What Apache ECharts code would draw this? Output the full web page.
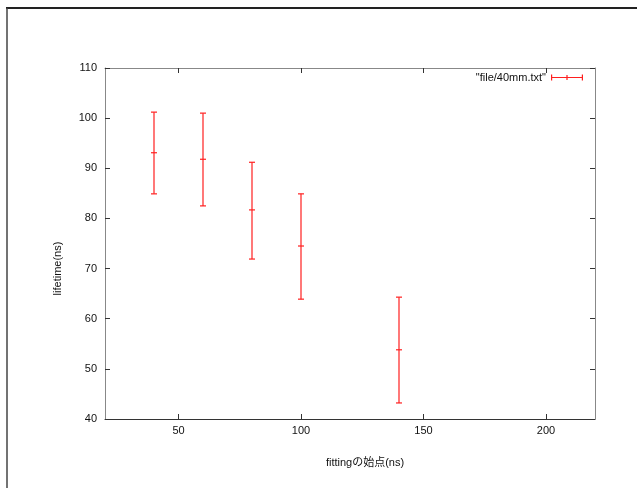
<!DOCTYPE html>
<html>
<head>
<meta charset="utf-8">
<script src="https://cdn.jsdelivr.net/npm/echarts@6/dist/echarts.min.js"></script>
<style>
html,body{margin:0;padding:0;background:#fff;}
#chart{width:637px;height:488px;}
</style>
</head>
<body>
<div id="chart"></div>
<script>
// Data
const seriesName = '"file/40mm.txt"';
const xValues = [40, 60, 80, 100, 140];
const centers = [93.1, 91.8, 81.7, 74.5, 53.8];
const lows    = [84.9, 82.5, 71.9, 63.9, 43.2];
const highs   = [101.2, 101.0, 91.2, 84.9, 64.3];
const xTicks = [50, 100, 150, 200];
const yTicks = [40, 50, 60, 70, 80, 90, 100, 110];
const xLabel = 'fittingの始点(ns)';
const yLabel = 'lifetime(ns)';

const data = xValues.map((x, i) => [x, lows[i], centers[i], highs[i]]);

const RED = '#ff1f1f';
const FONT = '"Liberation Sans", Arial, "Noto Sans CJK JP", sans-serif';

function renderItem(params, api) {
  const x = api.value(0);
  const pLo = api.coord([x, api.value(1)]);
  const pMid = api.coord([x, api.value(2)]);
  const pHi = api.coord([x, api.value(3)]);
  const hw = 3;
  const st = { stroke: RED, lineWidth: 1.2 };
  const seg = (x1, y1, x2, y2) => ({ type: 'line', shape: { x1, y1, x2, y2 }, style: st });
  return {
    type: 'group',
    children: [
      seg(pHi[0], pHi[1], pLo[0], pLo[1]),
      seg(pHi[0] - hw, pHi[1], pHi[0] + hw, pHi[1]),
      seg(pLo[0] - hw, pLo[1], pLo[0] + hw, pLo[1]),
      seg(pMid[0] - hw, pMid[1], pMid[0] + hw, pMid[1])
    ]
  };
}

const axisCommon = {
  type: 'value',
  splitLine: { show: false },
  axisTick: { show: true, inside: true, length: 5, lineStyle: { color: '#333' } },
};

const option = {
  animation: false,
  backgroundColor: '#fff',
  textStyle: { fontFamily: FONT },
  grid: { left: 105, right: 42, top: 68, bottom: 69, containLabel: false },
  legend: {
    right: 49,
    top: 67,
    align: 'right',
    itemWidth: 32,
    itemHeight: 7,
    itemGap: 5,
    textStyle: { fontFamily: FONT, fontSize: 11, color: '#111' },
    data: [{
      name: seriesName,
      icon: 'path://M0,3.4h32v1.2h-32z M0,1h1.2v6h-1.2z M30.8,1h1.2v6h-1.2z M15.4,1.5h1.2v5h-1.2z',
      itemStyle: { color: RED }
    }]
  },
  xAxis: [
    Object.assign({}, axisCommon, {
      position: 'bottom',
      min: 20, max: 220,
      axisLine: { show: true, onZero: false, lineStyle: { color: '#333', width: 1 } },
      axisTick: { show: true, inside: true, length: 5, customValues: xTicks, lineStyle: { color: '#333' } },
      axisLabel: { customValues: xTicks, margin: 6, fontSize: 11, color: '#111', fontFamily: FONT },
      name: xLabel,
      nameLocation: 'middle',
      nameGap: 38,
      nameTextStyle: { fontSize: 11, color: '#111', fontFamily: FONT, padding: [0, 0, 0, 30] }
    }),
    Object.assign({}, axisCommon, {
      position: 'top',
      min: 20, max: 220,
      axisLine: { show: true, onZero: false, lineStyle: { color: '#888', width: 1 } },
      axisTick: { show: true, inside: true, length: 5, customValues: xTicks, lineStyle: { color: '#333' } },
      axisLabel: { show: false }
    })
  ],
  yAxis: [
    Object.assign({}, axisCommon, {
      position: 'left',
      min: 40, max: 110, interval: 10,
      axisLine: { show: true, onZero: false, lineStyle: { color: '#888', width: 1 } },
      axisLabel: { margin: 8, fontSize: 11, color: '#111', fontFamily: FONT, customValues: yTicks },
      name: yLabel,
      nameLocation: 'middle',
      nameGap: 42,
      nameRotate: 90,
      nameTextStyle: { fontSize: 11, color: '#111', fontFamily: FONT, padding: [0, 50, 0, 0] }
    }),
    Object.assign({}, axisCommon, {
      position: 'right',
      min: 40, max: 110, interval: 10,
      axisLine: { show: true, onZero: false, lineStyle: { color: '#888', width: 1 } },
      axisLabel: { show: false }
    })
  ],
  graphic: [
    { type: 'line', shape: { x1: 6, y1: 8, x2: 637, y2: 8 }, style: { stroke: '#222', lineWidth: 2 } },
    { type: 'line', shape: { x1: 7, y1: 8, x2: 7, y2: 488 }, style: { stroke: '#444', lineWidth: 1.5 } }
  ],
  series: [{
    name: seriesName,
    type: 'custom',
    xAxisIndex: 0,
    yAxisIndex: 0,
    renderItem: renderItem,
    encode: { x: 0, y: [1, 2, 3] },
    itemStyle: { color: RED },
    data: data
  }]
};

const chart = echarts.init(document.getElementById('chart'), null, { renderer: 'canvas' });
chart.setOption(option);
</script>
</body>
</html>
